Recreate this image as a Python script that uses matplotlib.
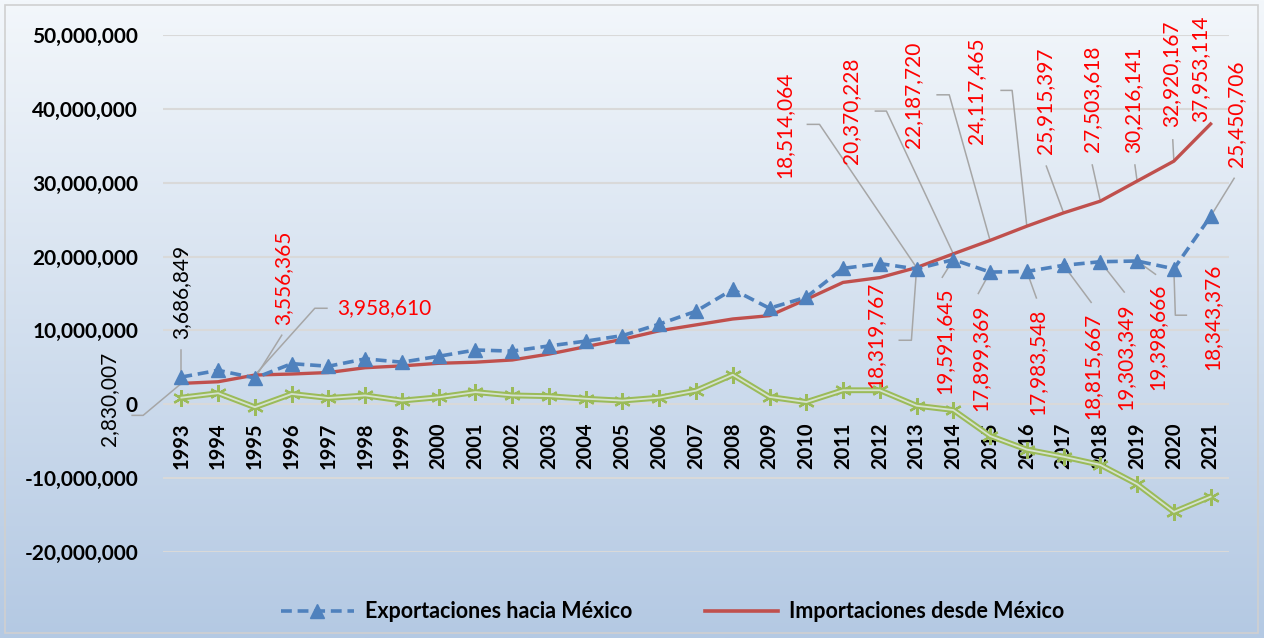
import numpy as np
import matplotlib.pyplot as plt
from matplotlib.lines import Line2D
from matplotlib.patches import Rectangle
from matplotlib.ticker import FuncFormatter

plt.rcParams['font.family'] = ['Lato', 'DejaVu Sans']

# DATA
years = list(range(1993, 2022))
exportaciones = [3686849, 4600000, 3556365, 5500000, 5150000, 6150000, 5700000, 6500000,
                 7350000, 7200000, 7900000, 8550000, 9300000, 10850000, 12600000, 15550000,
                 13000000, 14500000, 18400000, 19050000, 18319767, 19591645, 17899369,
                 17983548, 18815667, 19303349, 19398666, 18343376, 25450706]
importaciones = [2830007, 3050000, 3958610, 4100000, 4300000, 4950000, 5200000, 5550000,
                 5700000, 6000000, 6800000, 7800000, 8800000, 9950000, 10750000, 11550000,
                 12000000, 14200000, 16500000, 17150000, 18514064, 20370228, 22187720,
                 24117465, 25915397, 27503618, 30216141, 32920167, 37953114]
balanza = [900000, 1500000, -400000, 1400000, 850000, 1200000, 500000, 950000,
           1650000, 1200000, 1100000, 750000, 500000, 900000, 1850000, 4000000,
           1000000, 300000, 1900000, 1900000, -194297, -778583, -4288351,
           -6133917, -7099730, -8200269, -10817475, -14576791, -12502408]
yticks = list(range(-20000000, 50000001, 10000000))

BLUE = '#4F81BD'
RED = '#C0504D'
GREEN = '#9BBB59'
GRAY = '#A6A6A6'

fig = plt.figure(figsize=(12.64, 6.38), dpi=100)

# background gradient + border
bg = fig.add_axes([0, 0, 1, 1], zorder=-10)
grad = np.linspace(0, 1, 256)[:, None, None]
top = np.array([243, 247, 251]) / 255
bot = np.array([180, 201, 227]) / 255
bg.imshow(top + (bot - top) * grad, aspect='auto', extent=[0, 1, 0, 1])
bg.add_patch(Rectangle((0.004, 0.008), 0.991, 0.984, fill=False, ec='#D0D0D0', lw=1.2))
bg.set_xlim(0, 1)
bg.set_ylim(0, 1)
bg.axis('off')

ax = fig.add_axes([163 / 1264, 1 - 552 / 638, (1229 - 163) / 1264, (552 - 35) / 638])
ax.patch.set_alpha(0)
for s in ax.spines.values():
    s.set_visible(False)
ax.spines['bottom'].set_position(('data', 0))

# balance: double green line
ax.plot(years, balanza, color=GREEN, lw=4.2, zorder=3, marker=(6, 2, 0), ms=12, mew=1.6,
        mec=GREEN)
ax.plot(years, balanza, color='#E4ECEF', lw=1.3, alpha=0.8, zorder=3.1)
ax.plot(years, importaciones, color=RED, lw=2.4, zorder=4)
ax.plot(years, exportaciones, color=BLUE, lw=2.6, ls=(0, (3, 1.6)), marker='^', ms=10,
        zorder=5)

ax.set_xlim(1992.5, 2021.5)
ax.set_ylim(-20000000, 50000000)
ax.set_yticks(yticks)
ax.yaxis.set_major_formatter(FuncFormatter(lambda v, p: f"{int(v):,}"))
ax.set_xticks(years)
ax.set_xticklabels([str(y) for y in years], rotation=90, fontweight='bold', fontsize=14.5)
for t in ax.get_yticklabels():
    t.set_fontweight('bold')
    t.set_fontsize(15)
ax.tick_params(axis='x', length=0, pad=13)
ax.tick_params(axis='y', length=0, pad=18)
ax.grid(axis='y', color='#D9D9D9', lw=1.5)
ax.set_axisbelow(True)

# data labels: (text, series, year, label x, label y, colour, rotation, leader points)
exp = dict(zip(years, exportaciones))
imp = dict(zip(years, importaciones))
labels = [
    ("3,686,849", exp, 1993, 1993.0, 15.2e6, 'black', 90, [(1993.0, 7.3e6)]),
    ("2,830,007", imp, 1993, 1991.03, 0.8e6, 'black', 90, [(1991.66, -1.5e6), (1991.96, -1.5e6)]),
    ("3,556,365", exp, 1995, 1995.76, 17.1e6, 'red', 90, [(1995.73, 9.35e6)]),
    ("3,958,610", imp, 1995, 1998.53, 13.0e6, 'red', 0, [(1996.96, 13.0e6), (1996.63, 13.0e6)]),
    ("18,514,064", imp, 2013, 2009.41, 37.8e6, 'red', 90, [(2010.03, 37.9e6), (2010.36, 37.9e6)]),
    ("20,370,228", imp, 2014, 2011.23, 39.7e6, 'red', 90, [(2011.88, 39.7e6), (2012.18, 39.7e6)]),
    ("22,187,720", imp, 2015, 2012.91, 41.9e6, 'red', 90, [(2013.56, 41.9e6), (2013.89, 41.9e6)]),
    ("24,117,465", imp, 2016, 2014.62, 42.5e6, 'red', 90, [(2015.30, 42.5e6), (2015.60, 42.5e6)]),
    ("25,915,397", imp, 2017, 2016.50, 41.1e6, 'red', 90, [(2016.53, 32.25e6)]),
    ("27,503,618", imp, 2018, 2017.78, 41.3e6, 'red', 90, [(2017.78, 32.4e6)]),
    ("30,216,141", imp, 2019, 2018.89, 41.3e6, 'red', 90, [(2018.94, 32.4e6)]),
    ("32,920,167", imp, 2020, 2019.92, 44.7e6, 'red', 90, [(2019.97, 35.8e6)]),
    ("37,953,114", imp, 2021, 2020.71, 45.4e6, 'red', 90, []),
    ("25,450,706", exp, 2021, 2021.69, 39.4e6, 'red', 90, [(2021.64, 30.6e6)]),
    ("18,319,767", exp, 2013, 2011.88, 9.35e6, 'red', 90, [(2012.53, 8.67e6), (2012.86, 8.67e6)]),
    ("19,591,645", exp, 2014, 2013.76, 8.54e6, 'red', 90, [(2013.70, 17.2e6)]),
    ("17,899,369", exp, 2015, 2014.74, 6.23e6, 'red', 90, [(2014.68, 15.0e6)]),
    ("17,983,548", exp, 2016, 2016.29, 5.69e6, 'red', 90, [(2016.26, 14.4e6)]),
    ("18,815,667", exp, 2017, 2017.78, 5.15e6, 'red', 90, [(2017.75, 13.8e6)]),
    ("19,303,349", exp, 2018, 2018.68, 6.37e6, 'red', 90, [(2018.65, 15.2e6)]),
    ("19,398,666", exp, 2019, 2019.55, 9.08e6, 'red', 90, [(2019.50, 17.6e6)]),
    ("18,343,376", exp, 2020, 2021.04, 11.9e6, 'red', 90, [(2020.34, 12.06e6), (2020.04, 12.06e6)]),
]
for text, serie, yr, tx, ty, col, rot, pts in labels:
    ax.text(tx, ty, text, color=col, rotation=rot, ha='center', va='center',
            fontsize=15, zorder=6, clip_on=False)
    if pts:
        xs = [p[0] for p in pts] + [yr]
        ys = [p[1] for p in pts] + [serie[yr]]
        ax.plot(xs, ys, color=GRAY, lw=1.1, zorder=2, clip_on=False)

handles = [Line2D([], [], color=BLUE, lw=2.6, ls=(0, (3, 1.6)), marker='^', ms=10),
           Line2D([], [], color=RED, lw=2.6)]
fig.legend(handles, ["Exportaciones hacia México", "Importaciones desde México"],
           loc='center', bbox_to_anchor=(0.532, 1 - 612 / 638), ncol=2, frameon=False,
           prop={'weight': 'bold', 'size': 15.5}, handlelength=3.4, columnspacing=3.4,
           handletextpad=0.5)

fig.savefig("out.png", dpi=100)
